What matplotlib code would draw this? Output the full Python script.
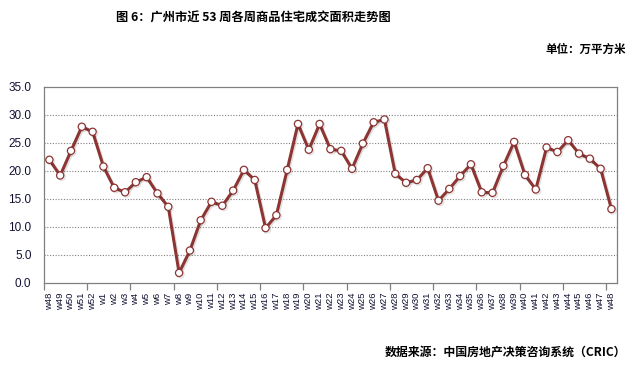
import matplotlib.pyplot as plt
import matplotlib.patheffects as pe
import numpy as np

plt.rcParams["font.family"] = ["Noto Sans CJK SC", "DejaVu Sans"]

# weekly transaction area, 10k m2
weeks = ["w48", "w49", "w50", "w51", "w52"] + [f"w{i}" for i in range(1, 49)]
area = [
    22.0, 19.2, 23.6, 27.9, 27.0,
    20.8, 17.0, 16.2, 18.0, 18.9, 16.0, 13.6, 1.8, 5.8, 11.2,
    14.5, 13.8, 16.5, 20.2, 18.4, 9.8, 12.1, 20.2, 28.4, 23.8,
    28.4, 23.9, 23.6, 20.4, 24.9, 28.7, 29.2, 19.5, 17.9, 18.4,
    20.5, 14.7, 16.8, 19.1, 21.2, 16.2, 16.1, 20.9, 25.2, 19.3,
    16.7, 24.2, 23.4, 25.5, 23.1, 22.2, 20.4, 13.2,
]
y_ticks = [0, 5, 10, 15, 20, 25, 30, 35]

title = "图 6：广州市近 53 周各周商品住宅成交面积走势图"
unit = "单位：万平方米"
source = "数据来源：中国房地产决策咨询系统（CRIC）"

fig = plt.figure(figsize=(6.32, 3.66), dpi=100)
ax = fig.add_axes([0.0696, 0.2268, 0.9064, 0.5355])

x = np.arange(len(weeks))
line_color = "#8c3533"
ax.plot(
    x, area,
    color=line_color, linewidth=2.2,
    marker="o", markersize=5.2, markerfacecolor="white",
    markeredgecolor=line_color, markeredgewidth=0.9,
    path_effects=[pe.SimpleLineShadow(offset=(1, -1), alpha=0.12), pe.Normal()],
    zorder=3,
)

ax.set_xlim(-0.5, len(weeks) - 0.5)
ax.set_ylim(0, 35)
ax.set_yticks(y_ticks)
ax.set_yticklabels([f"{v:.1f}" for v in y_ticks], fontsize=8.5, color="#111133",
                   family="Liberation Sans")
ax.tick_params(axis="y", length=0, pad=9)

ax.set_xticks(x)
ax.set_xticklabels(weeks, rotation=90, fontsize=6.8, color="#111133",
                   family="Liberation Sans", va="top", ha="center")
ax.tick_params(axis="x", which="major", length=0, pad=7)
ax.set_xticks(np.arange(-0.5, len(weeks), 4), minor=True)
ax.tick_params(axis="x", which="minor", length=5, width=0.9, color="#808080")

for v in y_ticks[1:-1]:
    ax.axhline(v, color="#808080", linestyle=(0, (1, 1.5)), linewidth=0.8, zorder=1)

for s in ax.spines.values():
    s.set_color("#808080")
    s.set_linewidth(0.9)

fig.text(253 / 632, 1 - 18 / 366, title, ha="center", va="center",
         fontsize=8.8, fontweight="bold")
fig.text(626 / 632, 1 - 49 / 366, unit, ha="right", va="center",
         fontsize=8.3, fontweight="bold")
fig.text(626 / 632, 1 - 352 / 366, source, ha="right", va="center",
         fontsize=8.6, fontweight="bold")

fig.savefig("out.png", dpi=100)
